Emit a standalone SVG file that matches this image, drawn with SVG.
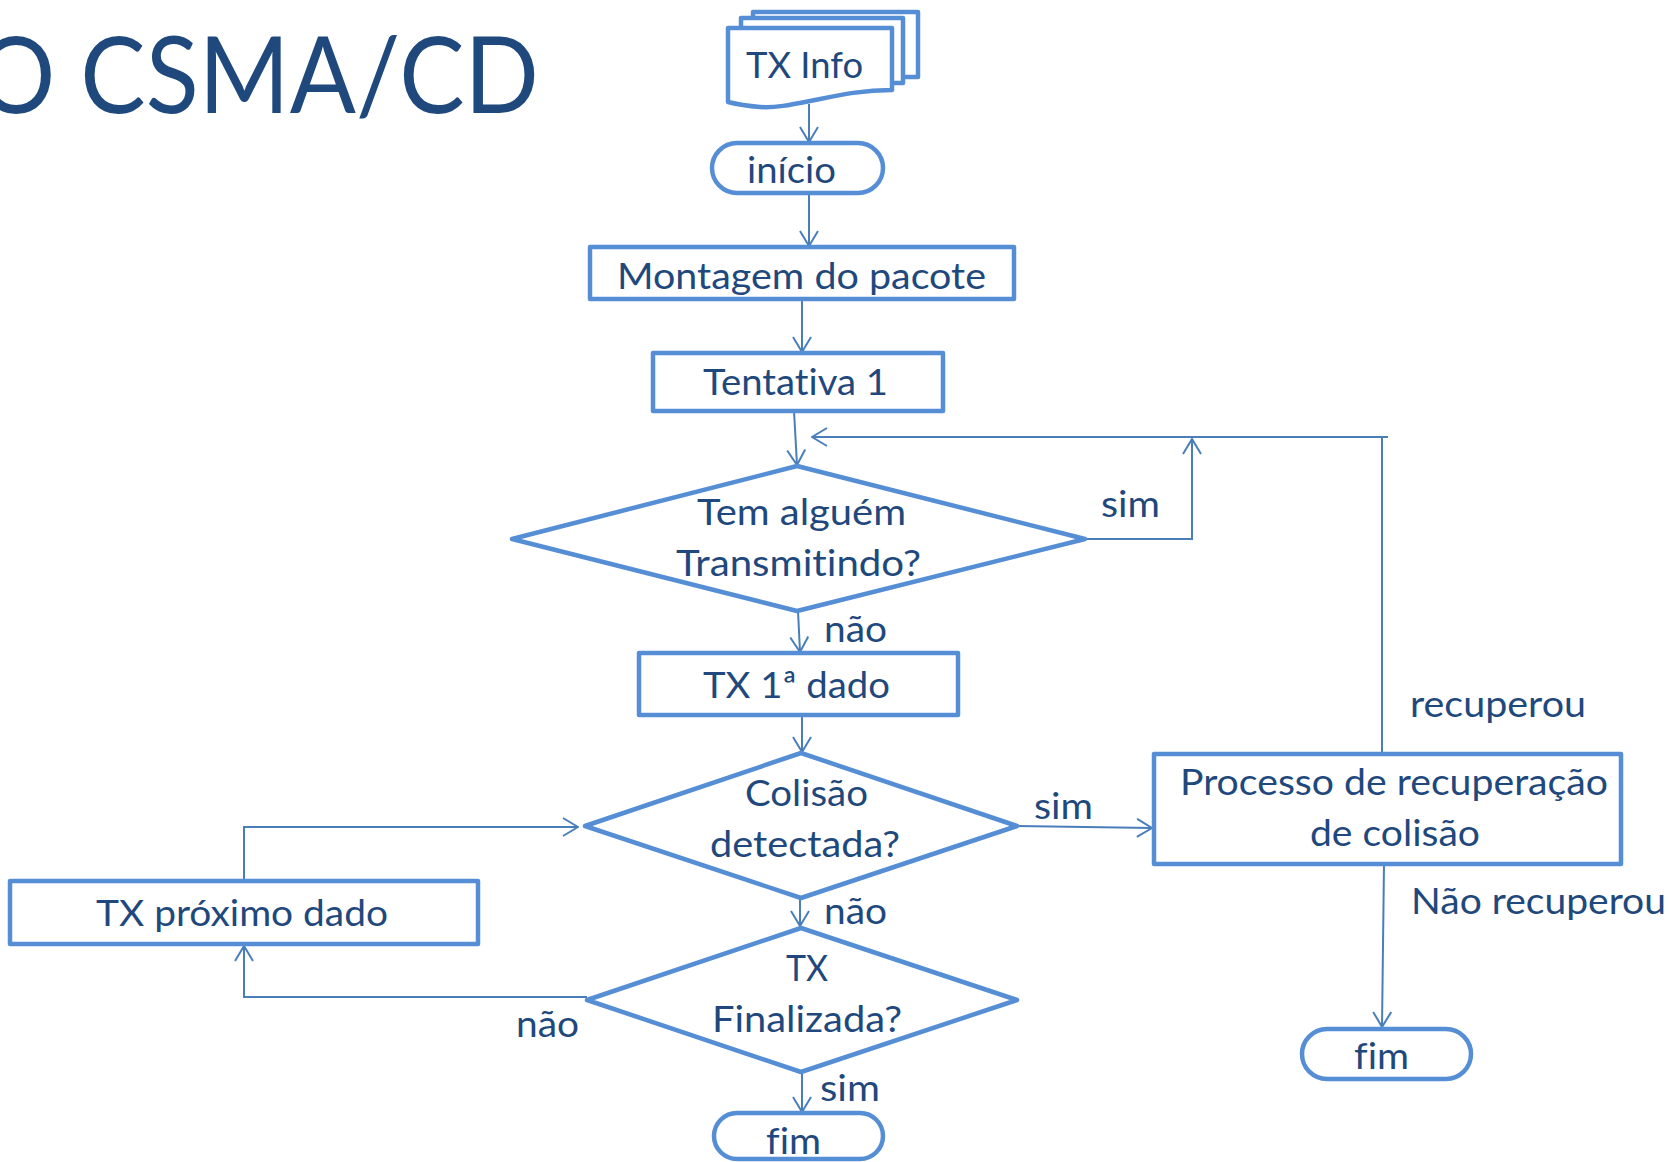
<svg xmlns="http://www.w3.org/2000/svg" width="1669" height="1162" viewBox="0 0 1669 1162">
<style>
.n{fill:#fff;stroke:#558ED5;stroke-width:4.5;stroke-linejoin:round}
.t{font-family:Lato,"Open Sans","Liberation Sans",sans-serif;font-size:37px;fill:#1F497D;font-variant-ligatures:none;font-feature-settings:"liga" 0,"dlig" 0}
.title{font-family:Lato,"Open Sans","Liberation Sans",sans-serif;font-size:106px;fill:#1F497D}
.c{fill:none;stroke:#4A7EBB;stroke-width:2}
</style>
<defs>
<marker id="a" viewBox="0 0 17 20" refX="16" refY="10" markerWidth="17" markerHeight="20" markerUnits="userSpaceOnUse" orient="auto">
<path d="M1,1 L16,10 L1,19" fill="none" stroke="#4A7EBB" stroke-width="2"/>
</marker>
</defs>
<rect width="1669" height="1162" fill="#fff"/>
<text class="title" x="-23" y="113" textLength="562" lengthAdjust="spacingAndGlyphs">O CSMA/CD</text>

<g id="connectors">
<path class="c" d="M809,104 V142" marker-end="url(#a)"/>
<path class="c" d="M809,193 V246" marker-end="url(#a)"/>
<path class="c" d="M802,299 V352" marker-end="url(#a)"/>
<path class="c" d="M794,411 L797,465" marker-end="url(#a)"/>
<path class="c" d="M1085,539 H1192 V439" marker-end="url(#a)"/>
<path class="c" d="M1382,754 V437 M1388,437 H812" marker-end="url(#a)"/>
<path class="c" d="M798,611 L800,652" marker-end="url(#a)"/>
<path class="c" d="M802,715 V752" marker-end="url(#a)"/>
<path class="c" d="M1017,826 L1152,828" marker-end="url(#a)"/>
<path class="c" d="M800,898 V926" marker-end="url(#a)"/>
<path class="c" d="M587,997 H244 V946" marker-end="url(#a)"/>
<path class="c" d="M244,881 V827 H578" marker-end="url(#a)"/>
<path class="c" d="M802,1072 V1112" marker-end="url(#a)"/>
<path class="c" d="M1384,864 L1382,1027" marker-end="url(#a)"/>
<text class="t" x="1101" y="517" textLength="59" lengthAdjust="spacingAndGlyphs">sim</text>
<text class="t" x="824" y="642" textLength="63" lengthAdjust="spacingAndGlyphs">não</text>
<text class="t" x="1034" y="819" textLength="59" lengthAdjust="spacingAndGlyphs">sim</text>
<text class="t" x="1410" y="717" textLength="176" lengthAdjust="spacingAndGlyphs">recuperou</text>
<text class="t" x="1411" y="914" textLength="255" lengthAdjust="spacingAndGlyphs">Não recuperou</text>
<text class="t" x="824" y="924" textLength="63" lengthAdjust="spacingAndGlyphs">não</text>
<text class="t" x="516" y="1037" textLength="63" lengthAdjust="spacingAndGlyphs">não</text>
<text class="t" x="820" y="1101" textLength="60" lengthAdjust="spacingAndGlyphs">sim</text>
</g>

<g id="txinfo">
<rect class="n" x="753" y="12" width="165" height="65"/>
<rect class="n" x="741" y="18" width="162" height="65"/>
<path class="n" d="M728,28 H892 V90 C860,90 835,96 810,101 C790,105 775,108 760,107 C748,106 736,104 728,102 Z"/>
<text class="t" x="746" y="78" textLength="117" lengthAdjust="spacingAndGlyphs">TX Info</text>
</g>
<g id="inicio">
<rect class="n" x="712" y="143" width="171" height="50" rx="25"/>
<text class="t" x="747" y="183" textLength="89" lengthAdjust="spacingAndGlyphs">início</text>
</g>
<g id="montagem">
<rect class="n" x="590" y="247" width="424" height="52"/>
<text class="t" x="617" y="289" textLength="369" lengthAdjust="spacingAndGlyphs">Montagem do pacote</text>
</g>
<g id="tentativa">
<rect class="n" x="653" y="353" width="290" height="58"/>
<text class="t" x="703" y="395" textLength="185" lengthAdjust="spacingAndGlyphs">Tentativa 1</text>
</g>
<g id="transmitindo">
<polygon class="n" points="797,466 1085,539 797,611 512,539"/>
<text class="t" x="697" y="525" textLength="209" lengthAdjust="spacingAndGlyphs">Tem alguém</text>
<text class="t" x="676" y="576" textLength="245" lengthAdjust="spacingAndGlyphs">Transmitindo?</text>
</g>
<g id="tx1">
<rect class="n" x="639" y="653" width="319" height="62"/>
<text class="t" x="703" y="698" textLength="187" lengthAdjust="spacingAndGlyphs">TX 1ª dado</text>
</g>
<g id="colisao">
<polygon class="n" points="801,753 1017,826 801,898 585,826"/>
<text class="t" x="745" y="806" textLength="123" lengthAdjust="spacingAndGlyphs">Colisão</text>
<text class="t" x="710" y="857" textLength="190" lengthAdjust="spacingAndGlyphs">detectada?</text>
</g>
<g id="processo">
<rect class="n" x="1154" y="754" width="467" height="110"/>
<text class="t" x="1180" y="795" textLength="428" lengthAdjust="spacingAndGlyphs">Processo de recuperação</text>
<text class="t" x="1310" y="846" textLength="170" lengthAdjust="spacingAndGlyphs">de colisão</text>
</g>
<g id="fim2">
<rect class="n" x="1302" y="1029" width="169" height="50" rx="25"/>
<text class="t" x="1354" y="1069" textLength="55" lengthAdjust="spacingAndGlyphs">fim</text>
</g>
<g id="txproximo">
<rect class="n" x="10" y="881" width="468" height="63"/>
<text class="t" x="96" y="926" textLength="292" lengthAdjust="spacingAndGlyphs">TX próximo dado</text>
</g>
<g id="finalizada">
<polygon class="n" points="801,928 1017,1000 801,1072 587,1000"/>
<text class="t" x="786" y="981" textLength="42" lengthAdjust="spacingAndGlyphs">TX</text>
<text class="t" x="712" y="1032" textLength="190" lengthAdjust="spacingAndGlyphs">Finalizada?</text>
</g>
<g id="fim1">
<rect class="n" x="714" y="1113" width="169" height="46" rx="23"/>
<text class="t" x="766" y="1154" textLength="55" lengthAdjust="spacingAndGlyphs">fim</text>
</g>
</svg>
